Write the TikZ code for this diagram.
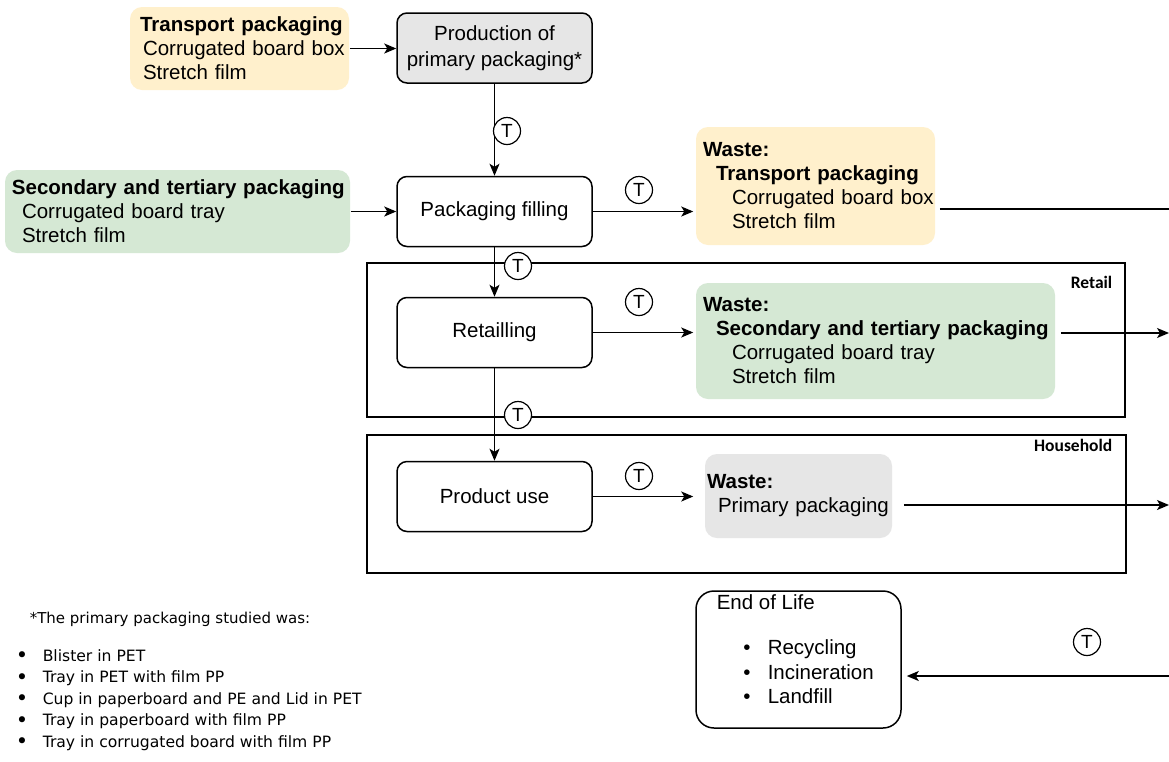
\documentclass[tikz,border=0pt]{standalone}
\usepackage{fontspec}
\setmainfont{Liberation Sans}
\newfontfamily\notefont{DejaVu Sans}
\newfontfamily\tagfont{Carlito}
\usetikzlibrary{arrows.meta,shapes}

\definecolor{transpfill}{HTML}{FFF0CC}
\definecolor{secfill}{HTML}{D5E8D4}
\definecolor{primfill}{HTML}{E6E6E6}

\begin{document}
\begin{tikzpicture}[x=1pt, y=-1pt, line width=1.5pt,
	>={Stealth[length=12pt,width=10pt,inset=3pt]},
	process/.style={draw, rounded corners=10pt, fill=white, minimum width=195pt, minimum height=70pt, inner sep=0pt, align=center, font=\fontsize{20.5}{26}\selectfont},
	matbox/.style={rounded corners=12pt, inner xsep=7pt, inner ysep=0pt, align=left, font=\fontsize{20.5}{24}\selectfont},
	stage/.style={draw, minimum width=758pt, inner sep=0pt},
	stagelabel/.style={anchor=east, inner sep=0pt, font=\tagfont\bfseries\fontsize{17.5}{20}\selectfont},
	tmark/.style={circle, draw, fill=white, line width=1.2pt, inner sep=0pt, minimum size=27pt, font=\fontsize{19}{20}\selectfont},
	fnote/.style={inner sep=0pt, font=\notefont\fontsize{15.6}{18}\selectfont}]
	
		\fill[white] (0,0) rectangle (1169,761);
		\useasboundingbox (0,0) rectangle (1169,761);
		
		% stages
		\node[stage, minimum height=154pt] (retail) at (746,340) {};
		\node[stage, minimum width=759pt, minimum height=138pt] (household) at (746.5,504) {};
		\node[stagelabel] (retaillab) at (1113,282) {Retail};
		\node[stagelabel] (householdlab) at (1113,445) {Household};
		
		% process chain
		\node[process, fill=primfill] (prodprim) at (494.5,48) {Production of\\primary packaging*};
		\node[process] (filling) at (494.5,211.5) {Packaging filling};
		\node[process] (retailing) at (494.5,332.5) {Retailling};
		\node[process] (productuse) at (494.5,496.5) {Product use};
		
		% packaging in
		\node[matbox, fill=transpfill, inner xsep=10pt, text width=199pt, minimum height=83pt] (transpin) at (239.5,48.5)
			{\mbox{\textbf{Transport packaging}}\\\mbox{\hspace*{3pt}Corrugated board box}\\\hspace*{3pt}Stretch film};
		\node[matbox, fill=secfill, text width=331pt, minimum height=83pt] (secin) at (177.5,211.5)
			{\mbox{\textbf{Secondary and tertiary packaging}}\\\hspace*{10pt}Corrugated board tray\\\hspace*{10pt}Stretch film};
		
		% waste
		\node[matbox, fill=transpfill, text width=225pt, minimum height=118pt] (wastetransp) at (815.5,186)
			{\textbf{Waste:}\\\mbox{\hspace*{13pt}\textbf{Transport packaging}}\\\mbox{\hspace*{29pt}Corrugated board box}\\\hspace*{29pt}Stretch film};
		\node[matbox, fill=secfill, text width=345pt, minimum height=116pt] (wastesec) at (875.5,341)
			{\textbf{Waste:}\\\mbox{\hspace*{13pt}\textbf{Secondary and tertiary packaging}}\\\hspace*{29pt}Corrugated board tray\\\hspace*{29pt}Stretch film};
		\node[matbox, fill=primfill, inner xsep=2pt, text width=183pt, minimum height=84pt] (wasteprim) at (798.5,496)
			{\textbf{Waste:}\\\mbox{\hspace*{11pt}Primary packaging}};
		
		% end of life
		\node[draw, rounded corners=18pt, minimum width=205pt, minimum height=137pt, inner sep=0pt] (eol) at (798.5,659.5) {};
		\node[anchor=north west, align=left, inner sep=0pt, font=\fontsize{20.5}{24.5}\selectfont] (eoltext) at (716,594)
			{End of Life\\[20.5pt]
			\hspace*{26.5pt}\makebox[24.5pt][l]{•}Recycling\\
			\hspace*{26.5pt}\makebox[24.5pt][l]{•}Incineration\\
			\hspace*{26.5pt}\makebox[24.5pt][l]{•}Landfill};
		
		% footnote
		\node[fnote, font=\notefont\fontsize{15}{18}\selectfont, anchor=base west] (fnhead) at (29,623) {*The primary packaging studied was:};
		\foreach \pkg [count=\i] in {Blister in PET, Tray in PET with film PP, Cup in paperboard and PE and Lid in PET, Tray in paperboard with film PP, Tray in corrugated board with film PP} {
			\node[fnote, font=\notefont\fontsize{21}{22}\selectfont, anchor=base] (dot\i) at (22,641+21.5*\i) {•};
			\node[fnote, anchor=base west] (pkg\i) at (42,639.5+21.5*\i) {\pkg};
		}
		
		\coordinate (outtransp) at (1169,209);
		\coordinate (outsec) at (1169,333);
		\coordinate (outprim) at (1169,505);
		\coordinate (ineol) at (1169,676);
		
		\draw[->] (transpin.east) -- (transpin.east -| prodprim.west);
		\draw[->] (secin.east) -- (secin.east -| filling.west);
		\draw[->] (prodprim) -- (filling);
		\draw[->] (filling) -- (retailing);
		\draw[->] (retailing) -- (productuse);
		\draw[->, shorten >=2pt] (filling.east) -- (filling.east -| wastetransp.west);
		\draw[->, shorten >=2pt] (retailing.east) -- (retailing.east -| wastesec.west);
		\draw[->, shorten >=11pt] (productuse.east) -- (productuse.east -| wasteprim.west);
		\draw[shorten <=4pt] (wastetransp.east |- outtransp) -- (outtransp);
		\draw[->, shorten <=5pt] (wastesec.east |- outsec) -- (outsec);
		\draw[->, shorten <=11pt] (wasteprim.east |- outprim) -- (outprim);
		\draw[->, shorten >=5pt] (ineol) -- (ineol -| eol.east);
		
		% transport marks
		\node[tmark] (t1) at (507,131) {T};
		\node[tmark] (t2) at (518,266) {T};
		\node[tmark] (t3) at (518,415) {T};
		\node[tmark] (t4) at (639,190) {T};
		\node[tmark] (t5) at (639,302) {T};
		\node[tmark] (t6) at (639,476) {T};
		\node[tmark] (t7) at (1087,642) {T};
		
	\end{tikzpicture}
\end{document}
